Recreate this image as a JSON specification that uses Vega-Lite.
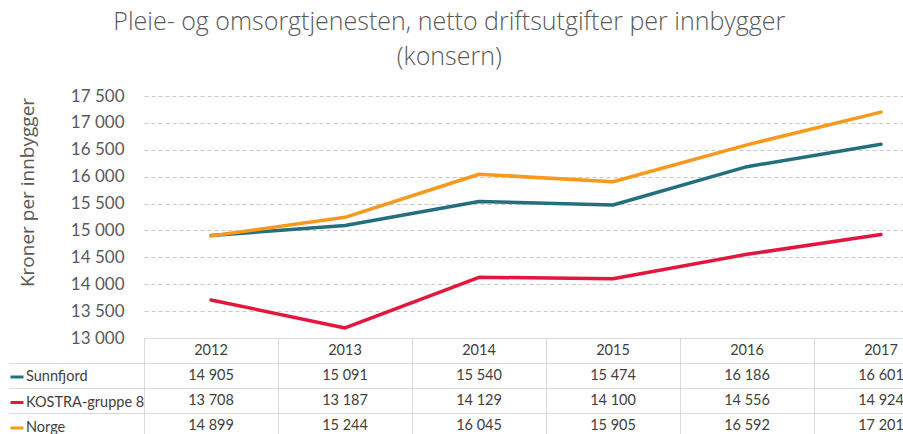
{
  "$schema": "https://vega.github.io/schema/vega-lite/v6.json",
  "padding": {"left": 8, "top": 10, "right": 0, "bottom": 0},
  "config": {
    "locale": {"number": {"decimal": ",", "thousands": " ", "grouping": [3], "currency": ["", ""]}},
    "view": {"stroke": null},
    "font": "Lato"
  },
  "title": {
    "text": ["Pleie- og omsorgtjenesten, netto driftsutgifter per innbygger", "(konsern)"],
    "font": "Open Sans", "fontWeight": 300, "fontSize": 25, "color": "#595959",
    "lineHeight": 35, "anchor": "middle", "offset": 17, "dx": -29
  },
  "datasets": {
    "d": [
      {"serie": "Sunnfjord", "year": "2012", "value": 14905},
      {"serie": "Sunnfjord", "year": "2013", "value": 15091},
      {"serie": "Sunnfjord", "year": "2014", "value": 15540},
      {"serie": "Sunnfjord", "year": "2015", "value": 15474},
      {"serie": "Sunnfjord", "year": "2016", "value": 16186},
      {"serie": "Sunnfjord", "year": "2017", "value": 16601},
      {"serie": "KOSTRA-gruppe 8", "year": "2012", "value": 13708},
      {"serie": "KOSTRA-gruppe 8", "year": "2013", "value": 13187},
      {"serie": "KOSTRA-gruppe 8", "year": "2014", "value": 14129},
      {"serie": "KOSTRA-gruppe 8", "year": "2015", "value": 14100},
      {"serie": "KOSTRA-gruppe 8", "year": "2016", "value": 14556},
      {"serie": "KOSTRA-gruppe 8", "year": "2017", "value": 14924},
      {"serie": "Norge", "year": "2012", "value": 14899},
      {"serie": "Norge", "year": "2013", "value": 15244},
      {"serie": "Norge", "year": "2014", "value": 16045},
      {"serie": "Norge", "year": "2015", "value": 15905},
      {"serie": "Norge", "year": "2016", "value": 16592},
      {"serie": "Norge", "year": "2017", "value": 17201}
    ]
  },
  "spacing": 0,
  "bounds": "flush",
  "resolve": {"scale": {"x": "independent", "y": "independent"}},
  "vconcat": [
    {
      "width": 804,
      "height": 242,
      "data": {"name": "d"},
      "mark": {"type": "line", "strokeWidth": 3.5, "strokeJoin": "round", "strokeCap": "round"},
      "encoding": {
        "x": {"field": "year", "type": "ordinal", "scale": {"type": "point", "padding": 0.5}, "axis": null},
        "y": {
          "field": "value", "type": "quantitative",
          "scale": {"domain": [13000, 17500], "nice": false, "zero": false},
          "axis": {
            "title": "Kroner per innbygger",
            "values": [13000, 13500, 14000, 14500, 15000, 15500, 16000, 16500, 17000, 17500],
            "format": ",d", "labelFontSize": 17, "labelColor": "#595959",
            "ticks": false, "domain": false, "labelPadding": 20,
            "gridDash": [4, 3], "gridColor": "#c8c8c8", "gridWidth": 1,
            "titleFont": "Open Sans", "titleFontSize": 19, "titleFontWeight": "normal",
            "titleColor": "#595959", "titlePadding": 33, "titleY": 96
          }
        },
        "color": {
          "field": "serie", "type": "nominal",
          "scale": {"domain": ["Sunnfjord", "KOSTRA-gruppe 8", "Norge"], "range": ["#246f7e", "#e3173e", "#f7991c"]},
          "legend": {
            "orient": "none", "legendX": -135, "legendY": 273, "title": null,
            "symbolType": "stroke", "symbolStrokeWidth": 3, "symbolSize": 169,
            "labelFontSize": 14.5, "labelColor": "#404040", "rowPadding": 10.5, "labelOffset": 1
          }
        }
      }
    },
    {
      "width": 804,
      "height": 100,
      "data": {"name": "d"},
      "encoding": {
        "x": {
          "field": "year", "type": "ordinal",
          "scale": {"type": "band", "paddingInner": 0, "paddingOuter": 0},
          "axis": {"orient": "top", "labels": false, "ticks": false, "domain": false, "title": null,
                   "grid": true, "bandPosition": 0, "gridColor": "#d9d9d9", "gridWidth": 1}
        },
        "y": {
          "field": "serie", "type": "nominal",
          "scale": {"type": "band", "domain": ["hdr", "Sunnfjord", "KOSTRA-gruppe 8", "Norge"], "paddingInner": 0, "paddingOuter": 0},
          "axis": {"labels": false, "title": null, "domain": false, "grid": true, "bandPosition": 0,
                   "gridColor": "#d9d9d9", "gridWidth": 1, "tickSize": 135, "tickWidth": 1,
                   "tickColor": {"condition": {"test": "datum.value === 'hdr'", "value": "transparent"}, "value": "#d9d9d9"}}
        }
      },
      "layer": [
        {
          "mark": {"type": "text", "fontSize": 14.5, "color": "#404040"},
          "encoding": {"text": {"field": "value", "type": "quantitative", "format": ",d"}}
        },
        {
          "transform": [{"filter": "datum.serie === 'Sunnfjord'"}],
          "mark": {"type": "text", "fontSize": 14.5, "color": "#404040"},
          "encoding": {"y": {"datum": "hdr"}, "text": {"field": "year"}}
        }
      ]
    }
  ]
}
